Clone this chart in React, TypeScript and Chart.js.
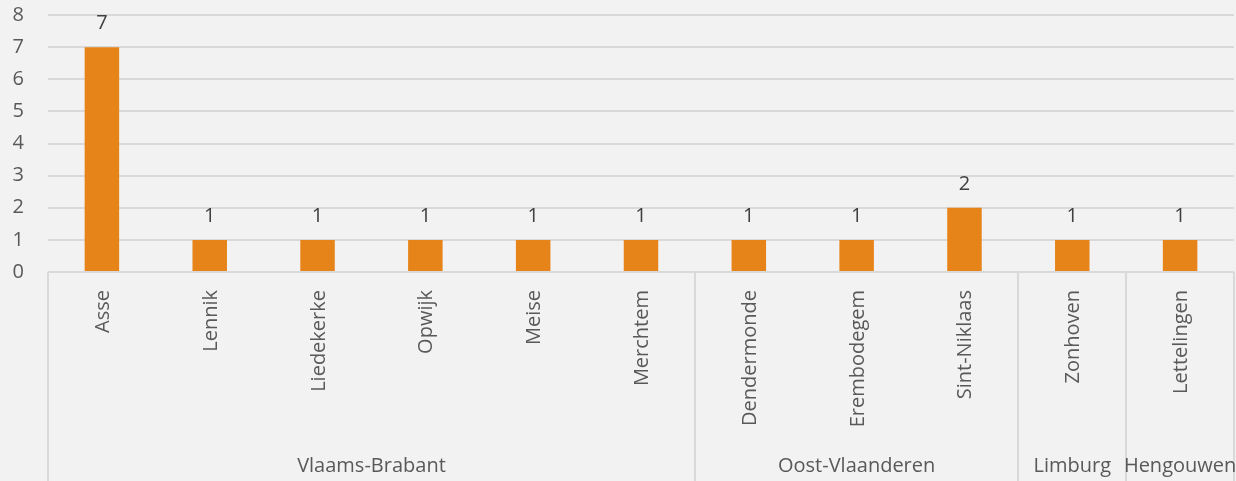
import React, { useEffect, useRef } from "react";
import { Chart, registerables } from "chart.js";

Chart.register(...registerables);

const cities = [
  "Asse", "Lennik", "Liedekerke", "Opwijk", "Meise", "Merchtem",
  "Dendermonde", "Erembodegem", "Sint-Niklaas", "Zonhoven", "Lettelingen",
];
const values = [7, 1, 1, 1, 1, 1, 1, 1, 2, 1, 1];
const groups = ["Vlaams-Brabant", "Oost-Vlaanderen", "Limburg", "Hengouwen"];
const groupSizes = [6, 3, 1, 1];
const yTicks = [0, 1, 2, 3, 4, 5, 6, 7, 8];

const FONT = "'Open Sans', sans-serif";
const TEXT = "#595959";
const GRID = "#d9d9d9";
const BAR = "#E6841A";

const customPlugin = {
  id: "custom",
  beforeDraw(chart: any) {
    const ctx = chart.ctx;
    ctx.save();
    ctx.fillStyle = "#f2f2f2";
    ctx.fillRect(0, 0, chart.width, chart.height);
    ctx.restore();
  },
  afterDraw(chart: any) {
    const ctx = chart.ctx;
    const x = chart.scales.x;
    const area = chart.chartArea;
    const half = (x.getPixelForValue(1) - x.getPixelForValue(0)) / 2;
    ctx.save();
    // separators
    ctx.strokeStyle = GRID;
    ctx.lineWidth = 2;
    let idx = 0;
    const bounds: number[] = [x.getPixelForValue(0) - half];
    groupSizes.forEach((s) => {
      idx += s;
      bounds.push(x.getPixelForValue(idx - 1) + half);
    });
    bounds.forEach((b) => {
      const bx = Math.round(b);
      ctx.beginPath();
      ctx.moveTo(bx, area.bottom);
      ctx.lineTo(bx, chart.height);
      ctx.stroke();
    });
    // city labels
    ctx.fillStyle = TEXT;
    ctx.font = `20px ${FONT}`;
    cities.forEach((c, i) => {
      const px = x.getPixelForValue(i);
      ctx.save();
      ctx.translate(px + 7, area.bottom + 18);
      ctx.rotate(-Math.PI / 2);
      ctx.textAlign = "right";
      ctx.textBaseline = "alphabetic";
      ctx.fillText(c, 0, 0);
      ctx.restore();
    });
    // group labels
    ctx.textAlign = "center";
    ctx.textBaseline = "alphabetic";
    groups.forEach((g, i) => {
      const cx = (bounds[i] + bounds[i + 1]) / 2;
      ctx.fillText(g, cx, 472);
    });
    // data labels
    ctx.fillStyle = "#404040";
    const meta = chart.getDatasetMeta(0);
    meta.data.forEach((bar: any, i: number) => {
      ctx.fillText(String(values[i]), bar.x, bar.y - 18);
    });
    ctx.restore();
  },
};

export default function App() {
  const ref = useRef<HTMLCanvasElement>(null);
  useEffect(() => {
    if (!ref.current) return;
    const chart = new Chart(ref.current, {
      type: "bar",
      data: {
        labels: cities,
        datasets: [
          {
            data: values,
            backgroundColor: BAR,
            categoryPercentage: 1,
            barPercentage: 0.32,
          },
        ],
      },
      plugins: [customPlugin],
      options: {
        animation: false,
        responsive: true,
        maintainAspectRatio: false,
        layout: { padding: { top: 15, right: 2, left: 0, bottom: 0 } },
        plugins: { legend: { display: false }, tooltip: { enabled: false } },
        scales: {
          x: {
            grid: { display: false },
            border: { display: false },
            ticks: { display: false },
            afterFit: (s: any) => {
              s.height = 209;
              s.paddingLeft = 0;
              s.paddingRight = 0;
            },
          },
          y: {
            min: 0,
            max: 8,
            afterBuildTicks: (s: any) => {
              s.ticks = yTicks.map((v) => ({ value: v }));
            },
            grid: { color: GRID, drawTicks: false, lineWidth: 2 },
            border: { display: false },
            ticks: {
              color: TEXT,
              font: { family: FONT, size: 20 },
              padding: 24,
            },
            afterFit: (s: any) => {
              s.width = 48;
              s.paddingTop = 0;
              s.paddingBottom = 0;
            },
          },
        },
      },
    });
    return () => chart.destroy();
  }, []);
  return (
    <div style={{ position: "absolute", left: 0, top: 0, width: 1236, height: 481 }}>
      <canvas ref={ref} />
    </div>
  );
}
